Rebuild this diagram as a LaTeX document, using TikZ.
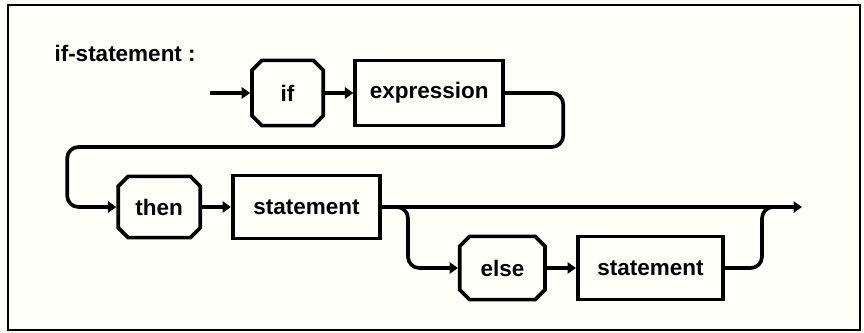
\documentclass[tikz,border=0pt]{standalone}
\usepackage{fontspec}
\setmainfont{Liberation Sans}
\usetikzlibrary{arrows.meta,shapes.misc}

\begin{document}
\begin{tikzpicture}[line width=2.6pt, font=\fontsize{16}{19}\selectfont\bfseries,
    >={Triangle[length=6pt,width=8pt]}]
    \tikzstyle{word} = [chamfered rectangle, chamfered rectangle xsep=3.5pt, draw, inner sep=1pt]
    \tikzstyle{rule} = [rectangle, draw, minimum height=1.58cm]
    \tikzstyle{line} = [rounded corners=8pt]

    \useasboundingbox (0,0) rectangle (21.6,8.325);
    \fill [black!4!yellow!2!white] (0,0) rectangle (21.6,8.325);
    \draw [line width=1.5pt] (0.2,0.075) rectangle (21.5,8.2);

    \node (a) at (1.2,7.0) [anchor=west] {if-statement :};

    \node (b) at (7.19,6.0) [word, minimum width=1.78cm, minimum height=1.63cm] {if};
    \node (c) at (10.73,6.0) [rule, minimum width=3.7cm, minimum height=1.63cm] {expression};

    \node (d) at (3.98,3.15) [word, minimum width=2.05cm, minimum height=1.53cm] {then};
    \node (e) at (7.66,3.15) [rule, minimum width=3.68cm] {statement};

    \node (f) at (12.56,1.625) [word, minimum width=2.13cm, minimum height=1.58cm] {else};
    \node (g) at (16.26,1.625) [rule, minimum width=3.63cm] {statement};

    \coordinate (s) at (5.25,6.0);
    \coordinate (t) at (20.05,3.15);

    \draw [->] (s) -- (b);
    \draw [->] (b) -- (c);
    \draw [->, line] (c.east) -- (14.08,6.0) -- (14.08,4.65) -- (1.68,4.65) -- (1.68,3.15) -- (d.west);

    \draw [->] (d) -- (e);
    \draw [->] (e) -- (t);
    \draw [->, line] (e.east) -- (10.2,3.15) -- (10.2,1.625) -- (f.west);

    \draw [->] (f) -- (g);
    \draw [line] (g.east) -- (19.05,1.625) -- (19.05,3.15) -- (19.6,3.15);
\end{tikzpicture}
\end{document}
